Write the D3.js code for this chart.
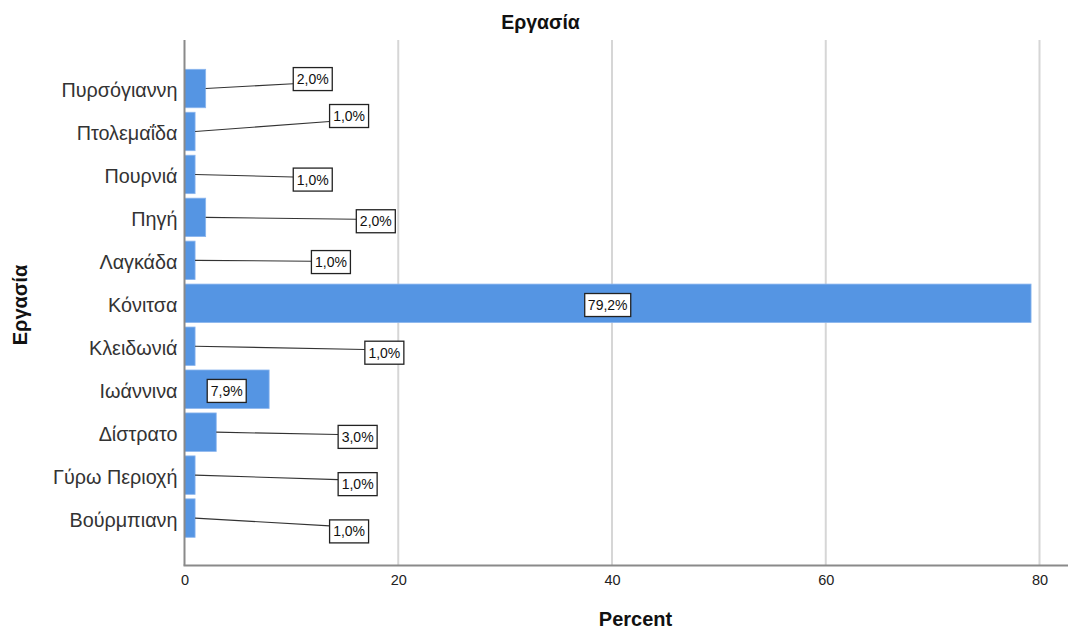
<!DOCTYPE html>
<html>
<head>
<meta charset="utf-8">
<script src="https://cdn.jsdelivr.net/npm/d3@7"></script>
<style>
  html, body { margin: 0; padding: 0; background: #fff; }
  svg { display: block; }
  text { font-family: "Liberation Sans", Arial, sans-serif; }
</style>
</head>
<body>
<svg id="chart" width="1077" height="630"></svg>
<script>
// ---- data ----
const categories = ["Πυρσόγιαννη", "Πτολεμαΐδα", "Πουρνιά", "Πηγή", "Λαγκάδα", "Κόνιτσα",
                    "Κλειδωνιά", "Ιωάννινα", "Δίστρατο", "Γύρω Περιοχή", "Βούρμπιανη"];
const percents = [1.98, 0.99, 0.99, 1.98, 0.99, 79.21, 0.99, 7.92, 2.97, 0.99, 0.99];
const valueLabels = ["2,0%", "1,0%", "1,0%", "2,0%", "1,0%", "79,2%", "1,0%", "7,9%", "3,0%", "1,0%", "1,0%"];
const xTicks = [0, 20, 40, 60, 80];

// label placement (box centre in percent units, vertical shift in band steps)
const labelX = [12.0, 15.4, 12.0, 17.9, 13.7, 39.6, 18.7, 3.95, 16.2, 16.2, 15.4];
const labelShift = [-0.22, -0.36, 0.12, 0.09, 0.04, 0.04, 0.15, 0.04, 0.11, 0.21, 0.31];

(function () {
const svg = d3.select("#chart");
const pLeft = 184.5, p80 = 1039.5, pTop = 40, pBottom = 565.5, axisRight = 1068;

const x = d3.scaleLinear().domain([0, 80]).range([pLeft, p80]);
const y = d3.scaleBand().domain(categories).range([69.3, 537.3]).paddingInner(0.105).paddingOuter(0);

// gridlines
svg.append("g").selectAll("line").data(xTicks.filter(d => d > 0)).join("line")
  .attr("x1", d => x(d)).attr("x2", d => x(d))
  .attr("y1", pTop).attr("y2", pBottom)
  .attr("stroke", "#d6d6d6").attr("stroke-width", 2);

// bars
svg.append("g").selectAll("rect").data(categories).join("rect")
  .attr("x", x(0))
  .attr("y", d => y(d))
  .attr("width", (d, i) => x(percents[i]) - x(0))
  .attr("height", y.bandwidth())
  .attr("fill", "#5595e3")
  .attr("stroke", "#8cb6ee").attr("stroke-width", 0.8);

// axes
const xAxis = d3.axisBottom(x).tickValues(xTicks).tickSize(0).tickPadding(9);
const gx = svg.append("g").attr("transform", `translate(0,${pBottom})`).call(xAxis);
gx.select(".domain").remove();
gx.selectAll("text").attr("font-size", 14.5).attr("fill", "#222")
  .style("font-family", "'Liberation Sans', Arial, sans-serif");
svg.append("line").attr("x1", pLeft - 1).attr("x2", axisRight).attr("y1", pBottom).attr("y2", pBottom)
  .attr("stroke", "#8a8a8a").attr("stroke-width", 2);

const yAxis = d3.axisLeft(y).tickSize(0).tickPadding(7);
const gy = svg.append("g").attr("transform", `translate(${pLeft},0)`).call(yAxis);
gy.select(".domain").remove();
gy.selectAll("text").attr("font-size", 19.8).attr("fill", "#333").attr("dy", "0.45em")
  .style("font-family", "'Liberation Sans', Arial, sans-serif");
svg.append("line").attr("x1", pLeft).attr("x2", pLeft).attr("y1", pTop).attr("y2", pBottom)
  .attr("stroke", "#8a8a8a").attr("stroke-width", 2);

// value labels with leader lines
const bw = 39, bh = 23;
const lab = svg.append("g");
categories.forEach((c, i) => {
  const cy = y(c) + y.bandwidth() / 2;
  const bx = x(labelX[i]);
  const by = cy + labelShift[i] * y.step();
  const wBox = valueLabels[i].length > 4 ? 46 : bw;
  const boxL = bx - wBox / 2, boxT = by - bh / 2;
  const barEnd = x(percents[i]);
  if (boxL > barEnd) {
    const ey = Math.max(boxT + 6, Math.min(boxT + bh - 6, cy + (by - cy) * 0.5));
    lab.append("line").attr("x1", barEnd).attr("y1", cy).attr("x2", boxL).attr("y2", ey)
      .attr("stroke", "#333").attr("stroke-width", 1.1);
  }
  lab.append("rect").attr("x", boxL).attr("y", boxT).attr("width", wBox).attr("height", bh)
    .attr("fill", "#fff").attr("stroke", "#222").attr("stroke-width", 1.3);
  lab.append("text").attr("x", bx).attr("y", by).attr("dy", "0.36em")
    .attr("text-anchor", "middle").attr("font-size", 14).attr("fill", "#111")
    .text(valueLabels[i]);
});

// titles
svg.append("text").attr("x", 540.5).attr("y", 29.3).attr("text-anchor", "middle")
  .attr("font-size", 19.5).attr("font-weight", "bold").attr("fill", "#111").text("Εργασία");
svg.append("text").attr("x", 635.5).attr("y", 625.7).attr("text-anchor", "middle")
  .attr("font-size", 20).attr("font-weight", "bold").attr("fill", "#111").text("Percent");
svg.append("text").attr("transform", "translate(26.7,305) rotate(-90)").attr("text-anchor", "middle")
  .attr("font-size", 20).attr("font-weight", "bold").attr("fill", "#111").text("Εργασία");
})();
</script>
</body>
</html>
